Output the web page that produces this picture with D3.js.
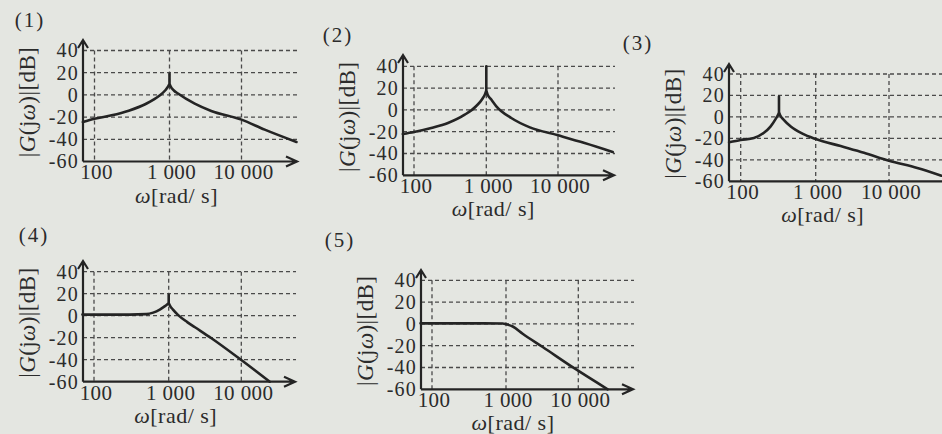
<!DOCTYPE html>
<html>
<head>
<meta charset="utf-8">
<script src="https://cdn.jsdelivr.net/npm/d3@7"></script>
<style>
  html, body { margin: 0; padding: 0; background: #e4e6e1; }
  svg { display: block; }
  text { font-family: "Liberation Serif", "DejaVu Serif", serif; fill: #2b2b2b; }
</style>
</head>
<body>
<svg id="chart" width="942" height="434"></svg>
<script>
// ---------- data ----------
const yTicks = [40, 20, 0, -20, -40, -60];
const xTicks = [100, 1000, 10000];
const xTickLabels = ["100", "1 000", "10 000"];
const panelNames = ["(1)", "(2)", "(3)", "(4)", "(5)"];

const p1Omega = [70, 100, 169, 286, 481, 730, 880, 960, 1000, 1000, 1000, 1040, 1150, 1312, 2240, 3800, 10000, 21000, 58000];
const p1Db    = [-24.5, -21.5, -18.4, -14.2, -8.2, -0.8, 4.2, 7.6, 10, 19, 10, 7.4, 4, 1.2, -7.9, -14.5, -22.3, -31.3, -42.4];

const p2Omega = [70, 100, 173, 295, 503, 733, 880, 960, 1000, 1000, 1000, 1040, 1174, 1380, 2230, 4050, 10000, 23500, 58000];
const p2Db    = [-22.1, -20.3, -16.6, -12, -4.4, 3.8, 10, 14.5, 18, 40, 18, 14.2, 9.5, 3.3, -7.4, -16, -23.3, -30.4, -38.6];

const p3Omega = [70, 100, 150, 204, 251, 293, 315, 324, 324, 324, 336, 378, 465, 665, 1000, 2190, 4560, 10000, 24300, 52000];
const p3Db    = [-23.7, -21.5, -19.6, -14.8, -8.8, -1.8, 2, 4.3, 19, 4.3, 1.6, -3, -9, -15.6, -20.6, -27.2, -33.4, -40.8, -47.6, -54.8];

const p4Omega = [70, 100, 300, 500, 620, 760, 880, 960, 1000, 1000, 1000, 1040, 1146, 1340, 1800, 2300, 3880, 10000, 24600];
const p4Db    = [1, 1, 1, 1.4, 2.8, 5.6, 8.5, 10.5, 11.5, 19, 11.5, 9.2, 5.5, 0.8, -5.8, -10.5, -20.5, -40.3, -60];

const p5Omega = [70, 100, 500, 900, 1000, 1240, 1700, 3220, 9000, 25500];
const p5Db    = [0.5, 0.5, 0.5, 0.3, -0.3, -2.4, -9, -21.2, -41.1, -60];

const seriesOmega = [p1Omega, p2Omega, p3Omega, p4Omega, p5Omega];
const seriesDb    = [p1Db, p2Db, p3Db, p4Db, p5Db];

// ---------- layout (pixel geometry of each small plot) ----------
const layout = [
  { ax: 83,  xr: [94.5, 169.5, 241.5], yr: [50.5, 161.5], xEnd: 297, yTip: 40,  name: [30, 20] },
  { ax: 403, xr: [414, 486.3, 558],    yr: [66.3, 175.3], xEnd: 614, yTip: 55,  name: [338, 35] },
  { ax: 729, xr: [740.7, 815.7, 889],  yr: [74, 181.3],   xEnd: 960, yTip: 64,  name: [638, 43] },
  { ax: 83,  xr: [94, 168.7, 241.3],   yr: [271.7, 381.7],xEnd: 295, yTip: 261, name: [34, 235] },
  { ax: 421, xr: [432, 506, 578.3],    yr: [280.3, 389.3],xEnd: 633, yTip: 270, name: [340, 240] }
];

const ink = "#242424";
const svg = d3.select("#chart");

layout.forEach((L, i) => {
  const g = svg.append("g");
  const x = d3.scaleLog().domain(xTicks).range(L.xr);
  const y = d3.scaleLinear().domain([40, -60]).range(L.yr);
  const y0 = y(-60);

  // grid: horizontal
  g.append("g").selectAll("line").data(yTicks.filter(t => t > -60)).join("line")
    .attr("x1", L.ax).attr("x2", L.xEnd + 1)
    .attr("y1", d => y(d)).attr("y2", d => y(d))
    .attr("stroke", "#4a4a4a").attr("stroke-width", 1.3).attr("stroke-dasharray", "4,3");
  // grid: vertical
  g.append("g").selectAll("line").data(xTicks).join("line")
    .attr("x1", d => x(d)).attr("x2", d => x(d))
    .attr("y1", y(40)).attr("y2", y0)
    .attr("stroke", "#4a4a4a").attr("stroke-width", 1.3).attr("stroke-dasharray", "4,3");

  // curve: split at vertical spikes
  const pts = seriesOmega[i].map((w, k) => [x(w), y(seriesDb[i][k])]);
  const segs = [];
  let cur = [pts[0]];
  for (let k = 1; k < pts.length; k++) {
    if (Math.abs(pts[k][0] - pts[k - 1][0]) < 0.01) {
      segs.push(cur);
      segs.push([pts[k - 1], pts[k]]);
      cur = [pts[k]];
    } else {
      cur.push(pts[k]);
    }
  }
  segs.push(cur);
  const lineGen = d3.line().curve(d3.curveMonotoneX);
  const straight = d3.line();
  let dStr = "";
  segs.filter(s => s.length > 1).forEach(s => {
    const vertical = Math.abs(s[0][0] - s[s.length - 1][0]) < 0.01;
    dStr += (vertical ? straight(s) : lineGen(s));
  });
  g.append("path").attr("d", dStr).attr("fill", "none")
    .attr("stroke", ink).attr("stroke-width", 2.6).attr("stroke-linejoin", "round").attr("stroke-linecap", "round");

  // axes with arrows
  g.append("path")
    .attr("d", `M${L.ax},${y0}V${L.yTip} M${L.ax - 5},${L.yTip + 8}L${L.ax},${L.yTip}L${L.ax + 5},${L.yTip + 8}`)
    .attr("fill", "none").attr("stroke", ink).attr("stroke-width", 2.2);
  g.append("path")
    .attr("d", `M${L.ax},${y0}H${L.xEnd} M${L.xEnd - 11},${y0 - 5}L${L.xEnd},${y0}L${L.xEnd - 11},${y0 + 5}`)
    .attr("fill", "none").attr("stroke", ink).attr("stroke-width", 2.2);

  // tick labels through d3 axes
  const ya = g.append("g").attr("transform", `translate(${L.ax - 3},0)`)
    .call(d3.axisLeft(y).tickValues(yTicks).tickSize(0).tickPadding(1).tickFormat(d => String(d)));
  ya.select(".domain").remove();
  ya.selectAll("text").attr("font-size", 20).attr("font-family", null).attr("fill", "#2b2b2b")
    .attr("letter-spacing", 1.2);

  const xa = g.append("g").attr("transform", `translate(0,${y0})`)
    .call(d3.axisBottom(x).tickValues(xTicks).tickSize(0).tickPadding(3)
      .tickFormat((d, k) => xTickLabels[k]));
  xa.select(".domain").remove();
  xa.selectAll("text").attr("font-size", 21).attr("font-family", null).attr("fill", "#2b2b2b")
    .attr("dx", 1.5).attr("letter-spacing", 0.4);

  // axis titles
  const xt = g.append("text").attr("x", x(1000) + 7).attr("y", y0 + 41)
    .attr("text-anchor", "middle").attr("font-size", 22).attr("letter-spacing", 0.5);
  xt.append("tspan").attr("font-style", "italic").text("ω");
  xt.append("tspan").text("[rad/ s]");

  const yt = g.append("text")
    .attr("transform", `translate(${L.ax - 56},${(y(40) + y0) / 2 - 4}) rotate(-90)`)
    .attr("text-anchor", "middle").attr("dominant-baseline", "central").attr("font-size", 23)
    .attr("letter-spacing", 0.4);
  yt.append("tspan").text("|");
  yt.append("tspan").attr("font-style", "italic").text("G");
  yt.append("tspan").text("(j");
  yt.append("tspan").attr("font-style", "italic").text("ω");
  yt.append("tspan").text(")|[dB]");

  // panel name
  svg.append("text").attr("x", L.name[0]).attr("y", L.name[1])
    .attr("text-anchor", "middle").attr("dominant-baseline", "central")
    .attr("font-size", 21).attr("letter-spacing", 2).text(panelNames[i]);
});
</script>
</body>
</html>
